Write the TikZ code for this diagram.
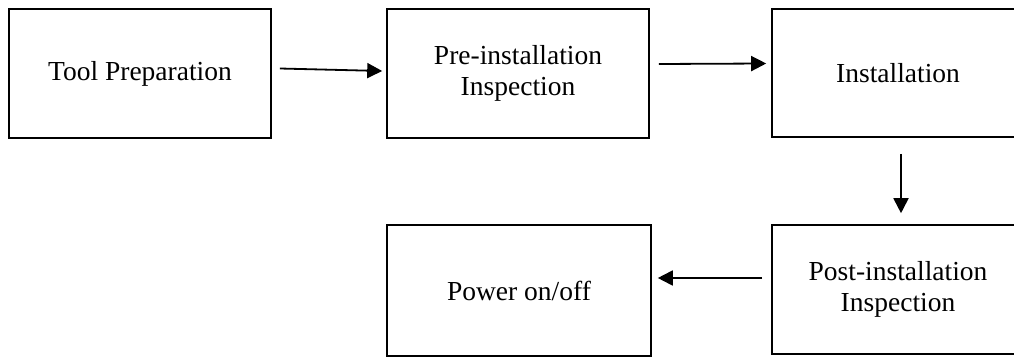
\documentclass[tikz,border=0pt]{standalone}
\usepackage{fontspec}
\setmainfont{Liberation Serif}
\usetikzlibrary{arrows.meta}
\begin{document}
\begin{tikzpicture}[x=1pt,y=1pt,
  stepbox/.style={draw=black, line width=1.6pt, minimum width=262pt, minimum height=129pt,
    inner sep=0pt, align=center, font=\fontsize{27.5}{31}\selectfont},
  arr/.style={line width=1.8pt, -{Triangle[length=15pt,width=15pt]}}]
\useasboundingbox (0,0) rectangle (1014,-358);
\clip (0,0) rectangle (1014,-358);
\node[stepbox] (b1) at (140,-73.5) {Tool Preparation};
\node[stepbox] (b2) at (518,-73.5) {Pre-installation\\Inspection};
\node[stepbox, minimum width=252pt, minimum height=128pt] (b3) at (898,-73) {Installation};
\node[stepbox, minimum width=264pt, minimum height=131pt] (b4) at (519,-290.5) {Power on/off};
\node[stepbox, minimum width=252pt] (b5) at (898,-289.5) {Post-installation\\Inspection};
\draw[arr] ([shift={(8,5)}]b1.east) -- ([shift={(-4,2.5)}]b2.west);
\draw[arr] ([shift={(9,9.5)}]b2.east) -- ([shift={(-5,9.5)}]b3.west);
\draw[arr] ([shift={(3,-16)}]b3.south) -- ([shift={(3,11)}]b5.north);
\draw[arr] ([shift={(-9,11.5)}]b5.west) -- ([shift={(6,12.5)}]b4.east);
\end{tikzpicture}
\end{document}
